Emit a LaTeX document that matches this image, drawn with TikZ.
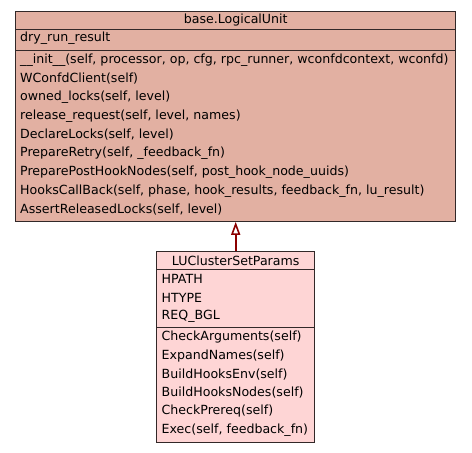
\documentclass[tikz,border=0pt]{standalone}
\usepackage{fontspec}
\setmainfont{DejaVu Sans}
\usetikzlibrary{arrows.meta,positioning}
\definecolor{basefill}{RGB}{226,176,162}
\definecolor{lufill}{RGB}{254,213,213}
\definecolor{boxline}{RGB}{50,40,40}
\definecolor{inheritred}{RGB}{139,0,0}
\tikzset{
  part/.style={draw=boxline,line width=1.1pt,inner sep=0pt,minimum width=#1},
  member/.style={anchor=west,inner sep=0pt,font=\fontsize{12.6}{14}\selectfont},
  head/.style={inner sep=0pt,font=\fontsize{12.6}{14}\selectfont},
  inherits/.style={-{Triangle[open,length=13pt,width=9pt]},draw=inheritred,line width=1.6pt}
}
\begin{document}
\begin{tikzpicture}[x=1pt,y=-1pt]
  \useasboundingbox (0,0) rectangle (472,453);

  % base.LogicalUnit
  \node[part=440pt,fill=basefill,minimum height=18pt]    (baseHead) at (235.7, 20.7)  {};
  \node[part=440pt,fill=basefill,minimum height=21pt]    (baseAttr) at (235.7, 40.2)  {};
  \node[part=440pt,fill=basefill,minimum height=170.6pt] (baseMeth) at (235.7,136.0)  {};

  \node[head]   (baseName) at (235.7, 20.5) {base.LogicalUnit};
  \node[member] (bA1) at (20, 38.5)  {dry\_run\_result};
  \node[member] (bM1) at (20, 60.0)  {\_\_init\_\_(self, processor, op, cfg, rpc\_runner, wconfdcontext, wconfd)};
  \node[member] (bM2) at (20, 78.8)  {WConfdClient(self)};
  \node[member] (bM3) at (20, 97.6)  {owned\_locks(self, level)};
  \node[member] (bM4) at (20,116.2)  {release\_request(self, level, names)};
  \node[member] (bM5) at (20,134.8)  {DeclareLocks(self, level)};
  \node[member] (bM6) at (20,153.4)  {PrepareRetry(self, \_feedback\_fn)};
  \node[member] (bM7) at (20,172.0)  {PreparePostHookNodes(self, post\_hook\_node\_uuids)};
  \node[member] (bM8) at (20,190.7)  {HooksCallBack(self, phase, hook\_results, feedback\_fn, lu\_result)};
  \node[member] (bM9) at (20,209.4)  {AssertReleasedLocks(self, level)};

  % LUClusterSetParams
  \node[part=158pt,fill=lufill,minimum height=17.6pt]  (luHead) at (235.7,260.5) {};
  \node[part=158pt,fill=lufill,minimum height=58.4pt]  (luAttr) at (235.7,298.5) {};
  \node[part=158pt,fill=lufill,minimum height=114.6pt] (luMeth) at (235.7,385.0) {};

  \node[head]   (luName) at (235.7,260.3) {LUClusterSetParams};
  \node[member] (lA1) at (161.5,278.5) {HPATH};
  \node[member] (lA2) at (161.5,297.5) {HTYPE};
  \node[member] (lA3) at (161.5,316.5) {REQ\_BGL};
  \node[member] (lM1) at (161.5,337.5) {CheckArguments(self)};
  \node[member] (lM2) at (161.5,356.0) {ExpandNames(self)};
  \node[member] (lM3) at (161.5,374.5) {BuildHooksEnv(self)};
  \node[member] (lM4) at (161.5,393.0) {BuildHooksNodes(self)};
  \node[member] (lM5) at (161.5,411.5) {CheckPrereq(self)};
  \node[member] (lM6) at (161.5,430.0) {Exec(self, feedback\_fn)};

  \draw[inherits] (luHead.north) -- (baseMeth.south);

\end{tikzpicture}
\end{document}
